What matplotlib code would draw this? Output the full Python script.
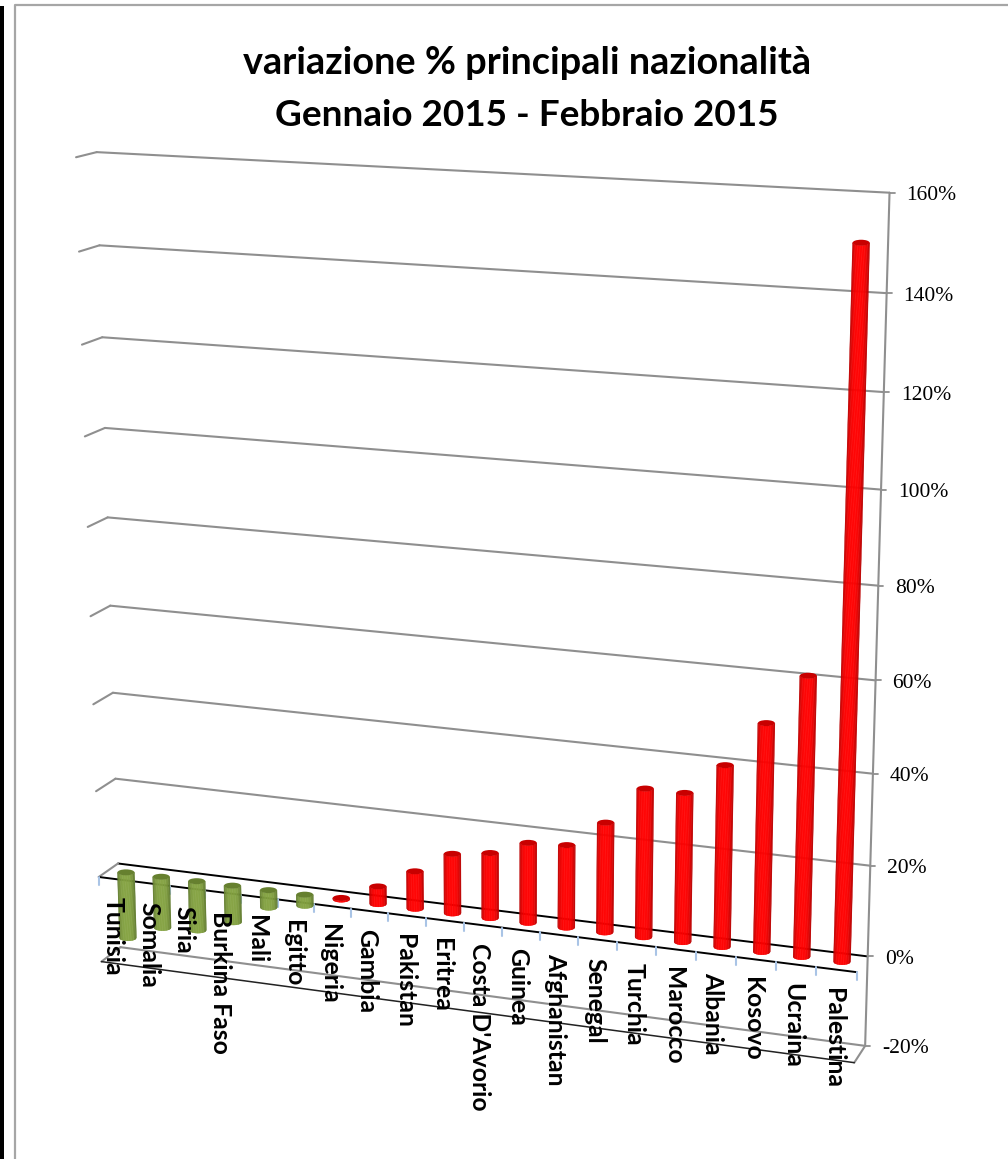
import numpy as np
import matplotlib
matplotlib.use("Agg")
import matplotlib.pyplot as plt
from matplotlib.collections import PolyCollection
from matplotlib.patches import Ellipse

# ── Data ──────────────────────────────────────────────────────────────────────

COUNTRIES = ["Tunisia", "Somalia", "Siria", "Burkina Faso", "Mali", "Egitto",
             "Nigeria", "Gambia", "Pakistan", "Eritrea", "Costa D'Avorio",
             "Guinea", "Afghanistan", "Senegal", "Turchia", "Marocco",
             "Albania", "Kosovo", "Ucraina", "Palestina"]
VALUES = [-15.5, -12, -11.5, -8.5, -4, -2.5, 0.3, 4, 8.5, 13.5, 14.7,
          18, 18.5, 24.5, 33, 33, 40, 50, 61, 150.5]
LEVELS = [-20, 0, 20, 40, 60, 80, 100, 120, 140, 160]
TICK_LABELS = [f"{v}%" for v in LEVELS]

# ── Perspective of the 3D box, fitted on its corners (u, depth, value -> px) ──

BACK_LEFT = [(120, 948), (116, 864), (118, 778), (115, 692), (112, 605),
             (107, 518), (105, 427), (102, 338), (98, 245), (96, 152)]
BACK_RIGHT = [(865, 1046), (868, 957), (870, 866), (873, 773), (875, 680),
              (878, 587), (881, 489), (883, 393), (887, 293), (890, 192)]
FRONT_LEFT = [(100, 961), (98, 876), (95, 792), (94, 705), (91, 617),
              (88, 527), (86, 436), (82, 345), (79, 252), (76, 157)]
FRONT_RIGHT = [(855, 1062), (857, 972)]


def fit_camera():
    rows, rhs = [], []

    def add(u, d, v, px):
        p = [u, d, v / 100, 1]
        rows.append(p + [0, 0, 0, 0] + [-px[0] * c for c in p[:3]])
        rhs.append(px[0])
        rows.append([0, 0, 0, 0] + p + [-px[1] * c for c in p[:3]])
        rhs.append(px[1])

    for lev, bl, br, fl in zip(LEVELS, BACK_LEFT, BACK_RIGHT, FRONT_LEFT):
        add(0, 0, lev, bl)
        add(1, 0, lev, br)
        add(0, 1, lev, fl)
    for lev, fr in zip(LEVELS[:2], FRONT_RIGHT):
        add(1, 1, lev, fr)
    sol = np.linalg.lstsq(np.array(rows, float), np.array(rhs, float), rcond=None)[0]
    return np.append(sol, 1.0).reshape(3, 4)


CAM = fit_camera()


def project(u, d, v):
    x, y, w = CAM @ np.array([u, d, v / 100, 1.0])
    return x / w, y / w


# ── Figure ────────────────────────────────────────────────────────────────────

GRID = "#8f8f8f"
LABEL_FONT = ["Lato", "DejaVu Sans"]
TICK_FONT = ["Liberation Serif", "DejaVu Serif"]

fig = plt.figure(figsize=(10.08, 11.59), dpi=100)
ax = fig.add_axes([0, 0, 1, 1])
ax.set_xlim(0, 1008)
ax.set_ylim(1159, 0)
ax.axis("off")

# chart frame and the black strip at the far left
ax.fill_between([0, 3.5], 6, 1159, color="black", lw=0)
ax.plot([14.5, 14.5, 1008], [1159, 5, 5], color="#a6a6a6", lw=1.6)


def seg(p0, p1, **kw):
    ax.plot([p0[0], p1[0]], [p0[1], p1[1]], solid_capstyle="round", **kw)


# gridlines, side stubs and y ticks
for lev, lab in zip(LEVELS, TICK_LABELS):
    line_kw = dict(color="black", lw=1.4) if lev == 0 else dict(color=GRID, lw=1.5)
    left, right = project(0, 0, lev), project(1, 0, lev)
    seg(left, right, **line_kw)
    seg(left, project(0, 1, lev), color=GRID, lw=1.5)
    seg(right, (right[0] + 5, right[1]), color=GRID, lw=1.3)
    ax.text(right[0] + 17, right[1] + 3, lab, ha="left", va="center",
            fontsize=15.5, family=TICK_FONT, color="black")

seg(project(1, 0, -20), project(1, 0, 160), color=GRID, lw=1.5)
seg(project(1, 0, -20), project(1, 1, -20), color=GRID, lw=1.5)
seg(project(0, 1, -20), project(1, 1, -20), color="#222222", lw=1.1)
seg(project(0, 1, 0), project(1, 1, 0), color="black", lw=1.4)

n = len(COUNTRIES)
for i in range(n + 1):
    x, y = project(i / n, 1, 0)
    seg((x, y), (x, y + 8), color="#a9c4e6", lw=1.5)

# cylinders, built as vertical strips with a dark-bright-dark shading
BAR_W, CAP_H = 17, 6
STRIPS = np.linspace(-1, 1, 25)
RED = dict(edge=np.array([0.70, 0, 0]), mid=np.array([1.0, 0, 0]), cap="#c80000")
GREEN = dict(edge=np.array([0.36, 0.46, 0.17]), mid=np.array([0.52, 0.64, 0.26]), cap="#66802f")

for i, val in enumerate(VALUES):
    style = GREEN if val < 0 else RED
    u = (i + 0.5) / n
    xt, yt = project(u, 0.5, max(val, 0))
    xb, yb = project(u, 0.5, min(val, 0))
    polys, colors = [], []
    for s0, s1 in zip(STRIPS[:-1], STRIPS[1:]):
        e0 = np.sqrt(1 - s0 ** 2) * CAP_H / 2
        e1 = np.sqrt(1 - s1 ** 2) * CAP_H / 2
        off0, off1 = s0 * BAR_W / 2, s1 * BAR_W / 2
        polys.append([(xt + off0, yt + e0), (xt + off1, yt + e1),
                      (xb + off1, yb + e1), (xb + off0, yb + e0)])
        t = abs((s0 + s1) / 2) ** 3.5
        colors.append(style["mid"] * (1 - t) + style["edge"] * t)
    ax.add_collection(PolyCollection(polys, facecolors=colors, edgecolors=colors,
                                     linewidths=0.3, zorder=3))
    ax.add_patch(Ellipse((xt, yt), BAR_W, CAP_H, facecolor=style["cap"],
                         edgecolor="none", zorder=4))

# category labels sit over the cylinders
for i, name in enumerate(COUNTRIES):
    x, y = project((i + 0.5) / n, 1, 0)
    ax.text(x - 3, y + 18, name, rotation=270, ha="center", va="top",
            fontsize=17.8, fontweight="bold", family=LABEL_FONT, zorder=5)

ax.text(527, 63, "variazione % principali nazionalità", ha="center", va="center",
        fontsize=27.3, fontweight="bold", family=LABEL_FONT)
ax.text(527, 115, "Gennaio 2015 - Febbraio 2015", ha="center", va="center",
        fontsize=26.6, fontweight="bold", family=LABEL_FONT)

fig.savefig("out.png", dpi=100)
